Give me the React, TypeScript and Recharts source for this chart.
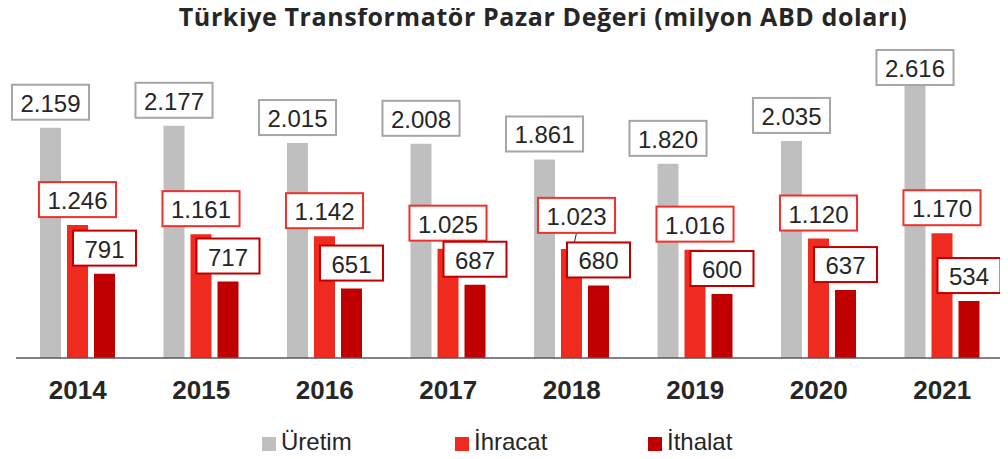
import React from 'react';
import { Bar, BarChart, LabelList, Legend, XAxis, YAxis } from 'recharts';

const years = ['2014', '2015', '2016', '2017', '2018', '2019', '2020', '2021'];
const uretim = [2159, 2177, 2015, 2008, 1861, 1820, 2035, 2616];
const ihracat = [1246, 1161, 1142, 1025, 1023, 1016, 1120, 1170];
const ithalat = [791, 717, 651, 687, 680, 600, 637, 534];

const seriesInfo = [
    { key: 'uretim', name: 'Üretim', fill: '#BFBFBF', border: '#A6A6A6' },
    { key: 'ihracat', name: 'İhracat', fill: '#EF2A1F', border: '#F0302A' },
    { key: 'ithalat', name: 'İthalat', fill: '#C00000', border: '#C00000' },
];

const data = years.map((year, i) => ({
    year,
    uretim: uretim[i],
    ihracat: ihracat[i],
    ithalat: ithalat[i],
}));

// Excel moved one label to avoid an overlap
const labelNudges: Record<string, { dx: number; dy: number }> = {
    'ihracat:4': { dx: 5, dy: -8 },
};

const FONT = '"Liberation Sans", Arial, sans-serif';
const TEXT = '#262626';
const LABEL_TOP_LIMIT = 42;

const fmt = (v: number) => String(v).replace(/\B(?=(\d{3})+(?!\d))/g, '.');

const textWidth = (s: string) =>
    s.split('').reduce((w, c) => w + (c === '.' ? 6.67 : 13.35), 0);

const makeLabel = (seriesKey: string, border: string) => (props: any) => {
    const x = Number(props.x);
    const y = Number(props.y);
    const width = Number(props.width);
    const text = fmt(Number(props.value));
    const nudge = labelNudges[`${seriesKey}:${props.index}`];
    const boxW = Math.max(textWidth(text) + 17, 63);
    const boxH = 35;
    let top = y - 8 - boxH;
    if (top < LABEL_TOP_LIMIT) top = LABEL_TOP_LIMIT;
    let cx = x + width / 2;
    if (nudge) {
        cx += nudge.dx;
        top += nudge.dy;
    }
    return (
        <g>
            {nudge && (
                <line x1={cx} y1={top + boxH} x2={cx - 2} y2={top + boxH + 9} stroke={TEXT} strokeWidth={1} />
            )}
            <rect x={cx - boxW / 2} y={top} width={boxW} height={boxH} fill="#fff" stroke={border} strokeWidth={2} />
            <text
                x={cx}
                y={top + boxH / 2 + 1}
                textAnchor="middle"
                dominantBaseline="central"
                fontFamily={FONT}
                fontSize={24}
                fill={TEXT}
            >
                {text}
            </text>
        </g>
    );
};

const LegendContent = () => (
    <div style={{ height: 30, display: 'flex', alignItems: 'center', paddingLeft: 254, fontFamily: FONT }}>
        {seriesInfo.map((s) => (
            <div key={s.key} style={{ width: 193, display: 'flex', alignItems: 'center' }}>
                <span style={{ width: 14, height: 14, background: s.fill, marginRight: 5, marginTop: 3 }} />
                <span style={{ fontSize: 24, color: TEXT }}>{s.name}</span>
            </div>
        ))}
    </div>
);

const App: React.FC = () => {
    return (
        <div style={{ position: 'relative', width: 1000, height: 451 }}>
            <BarChart
                width={1000}
                height={451}
                data={data}
                margin={{ top: 30, right: 4, left: 8, bottom: 2 }}
                barSize={21}
                barGap={6}
            >
                <XAxis
                    dataKey="year"
                    tickLine={false}
                    tickSize={0}
                    tickMargin={23}
                    height={69}
                    axisLine={{ stroke: '#595959', strokeWidth: 1.5 }}
                    tick={{ fontSize: 26, fontWeight: 700, fill: TEXT, fontFamily: FONT }}
                />
                <YAxis hide domain={[0, 3000]} />
                <Legend
                    verticalAlign="bottom"
                    content={<LegendContent />}
                    wrapperStyle={{ left: 0, width: 1000 }}
                />
                {seriesInfo.map((s) => (
                    <Bar key={s.key} dataKey={s.key} name={s.name} fill={s.fill} isAnimationActive={false}>
                        <LabelList dataKey={s.key} content={makeLabel(s.key, s.border)} />
                    </Bar>
                ))}
            </BarChart>
            <svg
                width={1000}
                height={50}
                style={{ position: 'absolute', left: 0, top: -8, pointerEvents: 'none', overflow: 'visible' }}
            >
                <text
                    x={535}
                    y={26}
                    textAnchor="middle"
                    fontFamily='"Open Sans", sans-serif'
                    fontWeight={700}
                    fontSize={25}
                    letterSpacing={0.6}
                    fill={TEXT}
                >
                    Türkiye Transformatör Pazar Değeri (milyon ABD doları)
                </text>
            </svg>
        </div>
    );
};

export default App;
